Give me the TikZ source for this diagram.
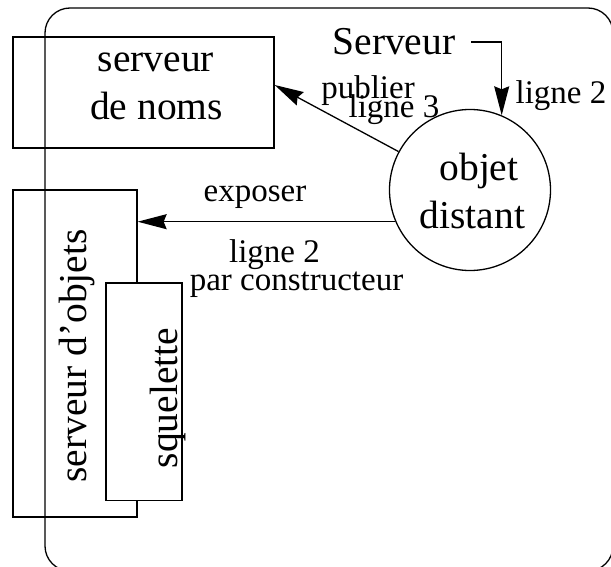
\documentclass[tikz,border=0pt]{standalone}
\usepackage{fontspec}
\setmainfont{Liberation Serif}
\usetikzlibrary{arrows.meta}
\begin{document}
\begin{tikzpicture}[x=1pt, y=-1pt, line width=1.3pt,
  big/.style={font=\fontsize{39.5}{47}\selectfont, inner sep=0pt},
  small/.style={font=\fontsize{33}{38}\selectfont, inner sep=0pt},
  box/.style={draw, inner sep=0pt},
  arr/.style={-{Stealth[length=29pt, width=15pt, inset=3pt]}}]
\useasboundingbox (0,0) rectangle (611,567);
\clip (0,0) rectangle (611,567);

% outer frame (machine boundary)
\node[box, rounded corners=25pt, minimum width=568, minimum height=563] (frame) at (329,289.5) {};

% boxes
\node[box, minimum width=261, minimum height=111] (noms) at (143.5,92.5) {};
\node[box, minimum width=124, minimum height=327] (objs) at (75,353.5) {};
\node[box, fill=white, minimum width=76, minimum height=217.5] (squel) at (144,391.75) {};
\node[box, circle, minimum size=161] (obj) at (470,190) {};

% box texts
\node[big, anchor=base] (nomsA) at (156,72) {serveur};
\node[big, anchor=base] (nomsB) at (156.5,120) {de noms};
\node[big, anchor=base, rotate=90] (objsT) at (86,356) {serveur d’objets};
\node[big, anchor=base, rotate=90] (squelT) at (177,398) {squelette};
\node[big, anchor=base] (objA) at (479,181) {objet};
\node[big, anchor=base] (objB) at (472.5,229) {distant};
\node[big, anchor=base] (srv) at (394,55) {Serveur};

% connectors
\draw[arr] ([xshift=15pt]srv.east) -| (obj.67);
\draw[arr] (obj) -- ([yshift=7.5pt]noms.east);
\draw[arr] (obj.203.5) -- (objs.east |- obj.203.5);

% connector labels
\node[small, anchor=base] (l2a) at (561,104) {ligne 2};
\node[small, anchor=base] (pub) at (368,99) {publier};
\node[small, anchor=base] (l3) at (394,118) {ligne 3};
\node[small, anchor=base] (expo) at (255,202) {exposer};
\node[small, anchor=base] (l2b) at (274.5,262) {ligne 2};
\node[small, anchor=base] (pc) at (296.5,290) {par constructeur};
\end{tikzpicture}
\end{document}
